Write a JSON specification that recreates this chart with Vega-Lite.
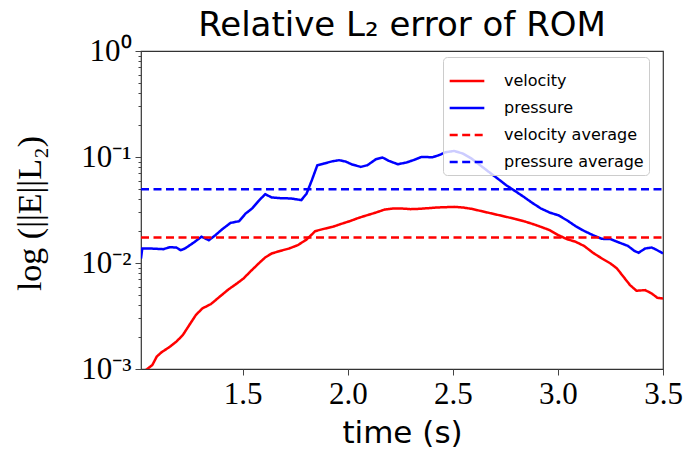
{
  "$schema": "https://vega.github.io/schema/vega-lite/v6.json",
  "autosize": "none",
  "width": 522,
  "height": 318,
  "padding": {"left": 141, "top": 51, "right": 23, "bottom": 85},
  "background": "white",
  "config": {
    "view": {"stroke": "#333333", "strokeWidth": 1.2},
    "axis": {"grid": false, "domain": false}
  },
  "title": {
    "text": "Relative L₂ error of ROM",
    "font": "DejaVu Sans",
    "fontSize": 34,
    "fontWeight": "normal",
    "color": "#000000",
    "anchor": "middle",
    "baseline": "alphabetic",
    "offset": 15,
    "dy": 50
  },
  "data": {
    "values": [
      {"series": "pressure", "time": 1.016, "error": 0.0110},
      {"series": "pressure", "time": 1.022, "error": 0.0137},
      {"series": "pressure", "time": 1.060, "error": 0.0137},
      {"series": "pressure", "time": 1.122, "error": 0.0135},
      {"series": "pressure", "time": 1.153, "error": 0.0141},
      {"series": "pressure", "time": 1.184, "error": 0.0140},
      {"series": "pressure", "time": 1.205, "error": 0.0132},
      {"series": "pressure", "time": 1.225, "error": 0.0137},
      {"series": "pressure", "time": 1.267, "error": 0.0156},
      {"series": "pressure", "time": 1.304, "error": 0.0177},
      {"series": "pressure", "time": 1.339, "error": 0.0164},
      {"series": "pressure", "time": 1.370, "error": 0.0183},
      {"series": "pressure", "time": 1.401, "error": 0.0207},
      {"series": "pressure", "time": 1.442, "error": 0.0239},
      {"series": "pressure", "time": 1.483, "error": 0.0248},
      {"series": "pressure", "time": 1.514, "error": 0.0293},
      {"series": "pressure", "time": 1.545, "error": 0.0327},
      {"series": "pressure", "time": 1.576, "error": 0.0386},
      {"series": "pressure", "time": 1.607, "error": 0.0446},
      {"series": "pressure", "time": 1.638, "error": 0.0415},
      {"series": "pressure", "time": 1.680, "error": 0.0409},
      {"series": "pressure", "time": 1.731, "error": 0.0406},
      {"series": "pressure", "time": 1.779, "error": 0.0392},
      {"series": "pressure", "time": 1.804, "error": 0.0452},
      {"series": "pressure", "time": 1.829, "error": 0.0604},
      {"series": "pressure", "time": 1.855, "error": 0.0836},
      {"series": "pressure", "time": 1.886, "error": 0.0867},
      {"series": "pressure", "time": 1.928, "error": 0.0912},
      {"series": "pressure", "time": 1.959, "error": 0.0933},
      {"series": "pressure", "time": 1.990, "error": 0.0906},
      {"series": "pressure", "time": 2.021, "error": 0.0849},
      {"series": "pressure", "time": 2.062, "error": 0.0807},
      {"series": "pressure", "time": 2.093, "error": 0.0836},
      {"series": "pressure", "time": 2.134, "error": 0.0953},
      {"series": "pressure", "time": 2.165, "error": 0.0989},
      {"series": "pressure", "time": 2.196, "error": 0.0919},
      {"series": "pressure", "time": 2.238, "error": 0.0855},
      {"series": "pressure", "time": 2.279, "error": 0.0887},
      {"series": "pressure", "time": 2.320, "error": 0.0946},
      {"series": "pressure", "time": 2.351, "error": 0.1002},
      {"series": "pressure", "time": 2.403, "error": 0.0995},
      {"series": "pressure", "time": 2.434, "error": 0.1040},
      {"series": "pressure", "time": 2.465, "error": 0.1109},
      {"series": "pressure", "time": 2.506, "error": 0.1141},
      {"series": "pressure", "time": 2.548, "error": 0.1077},
      {"series": "pressure", "time": 2.589, "error": 0.0966},
      {"series": "pressure", "time": 2.630, "error": 0.0836},
      {"series": "pressure", "time": 2.671, "error": 0.0724},
      {"series": "pressure", "time": 2.713, "error": 0.0626},
      {"series": "pressure", "time": 2.754, "error": 0.0542},
      {"series": "pressure", "time": 2.795, "error": 0.0479},
      {"series": "pressure", "time": 2.837, "error": 0.0421},
      {"series": "pressure", "time": 2.878, "error": 0.0369},
      {"series": "pressure", "time": 2.919, "error": 0.0327},
      {"series": "pressure", "time": 2.961, "error": 0.0299},
      {"series": "pressure", "time": 3.002, "error": 0.0282},
      {"series": "pressure", "time": 3.043, "error": 0.0253},
      {"series": "pressure", "time": 3.085, "error": 0.0222},
      {"series": "pressure", "time": 3.126, "error": 0.0200},
      {"series": "pressure", "time": 3.167, "error": 0.0183},
      {"series": "pressure", "time": 3.209, "error": 0.0169},
      {"series": "pressure", "time": 3.250, "error": 0.0168},
      {"series": "pressure", "time": 3.291, "error": 0.0156},
      {"series": "pressure", "time": 3.333, "error": 0.0145},
      {"series": "pressure", "time": 3.364, "error": 0.0130},
      {"series": "pressure", "time": 3.384, "error": 0.0125},
      {"series": "pressure", "time": 3.415, "error": 0.0137},
      {"series": "pressure", "time": 3.446, "error": 0.0140},
      {"series": "pressure", "time": 3.467, "error": 0.0134},
      {"series": "pressure", "time": 3.500, "error": 0.0123},
      {"series": "velocity", "time": 1.020, "error": 0.00090},
      {"series": "velocity", "time": 1.039, "error": 0.000977},
      {"series": "velocity", "time": 1.070, "error": 0.00109},
      {"series": "velocity", "time": 1.091, "error": 0.00131},
      {"series": "velocity", "time": 1.112, "error": 0.00143},
      {"series": "velocity", "time": 1.153, "error": 0.00162},
      {"series": "velocity", "time": 1.184, "error": 0.00181},
      {"series": "velocity", "time": 1.215, "error": 0.00209},
      {"series": "velocity", "time": 1.246, "error": 0.00260},
      {"series": "velocity", "time": 1.277, "error": 0.00323},
      {"series": "velocity", "time": 1.308, "error": 0.00373},
      {"series": "velocity", "time": 1.349, "error": 0.00410},
      {"series": "velocity", "time": 1.390, "error": 0.00480},
      {"series": "velocity", "time": 1.432, "error": 0.00563},
      {"series": "velocity", "time": 1.473, "error": 0.00642},
      {"series": "velocity", "time": 1.504, "error": 0.00715},
      {"series": "velocity", "time": 1.535, "error": 0.00826},
      {"series": "velocity", "time": 1.576, "error": 0.00990},
      {"series": "velocity", "time": 1.607, "error": 0.01128},
      {"series": "velocity", "time": 1.638, "error": 0.01230},
      {"series": "velocity", "time": 1.680, "error": 0.01303},
      {"series": "velocity", "time": 1.721, "error": 0.01371},
      {"series": "velocity", "time": 1.762, "error": 0.01473},
      {"series": "velocity", "time": 1.804, "error": 0.01666},
      {"series": "velocity", "time": 1.845, "error": 0.01997},
      {"series": "velocity", "time": 1.886, "error": 0.02100},
      {"series": "velocity", "time": 1.928, "error": 0.02194},
      {"series": "velocity", "time": 1.969, "error": 0.02340},
      {"series": "velocity", "time": 2.010, "error": 0.02483},
      {"series": "velocity", "time": 2.052, "error": 0.02668},
      {"series": "velocity", "time": 2.093, "error": 0.02826},
      {"series": "velocity", "time": 2.134, "error": 0.02993},
      {"series": "velocity", "time": 2.176, "error": 0.03196},
      {"series": "velocity", "time": 2.217, "error": 0.03266},
      {"series": "velocity", "time": 2.258, "error": 0.03266},
      {"series": "velocity", "time": 2.300, "error": 0.03221},
      {"series": "velocity", "time": 2.341, "error": 0.03243},
      {"series": "velocity", "time": 2.382, "error": 0.03290},
      {"series": "velocity", "time": 2.424, "error": 0.03338},
      {"series": "velocity", "time": 2.465, "error": 0.03362},
      {"series": "velocity", "time": 2.506, "error": 0.03385},
      {"series": "velocity", "time": 2.548, "error": 0.03338},
      {"series": "velocity", "time": 2.589, "error": 0.03243},
      {"series": "velocity", "time": 2.630, "error": 0.03105},
      {"series": "velocity", "time": 2.671, "error": 0.02974},
      {"series": "velocity", "time": 2.713, "error": 0.02846},
      {"series": "velocity", "time": 2.754, "error": 0.02725},
      {"series": "velocity", "time": 2.795, "error": 0.02609},
      {"series": "velocity", "time": 2.837, "error": 0.02483},
      {"series": "velocity", "time": 2.878, "error": 0.02340},
      {"series": "velocity", "time": 2.919, "error": 0.02194},
      {"series": "velocity", "time": 2.961, "error": 0.02040},
      {"series": "velocity", "time": 3.002, "error": 0.01832},
      {"series": "velocity", "time": 3.043, "error": 0.01678},
      {"series": "velocity", "time": 3.085, "error": 0.01584},
      {"series": "velocity", "time": 3.126, "error": 0.01442},
      {"series": "velocity", "time": 3.167, "error": 0.01247},
      {"series": "velocity", "time": 3.209, "error": 0.01104},
      {"series": "velocity", "time": 3.250, "error": 0.00990},
      {"series": "velocity", "time": 3.281, "error": 0.00888},
      {"series": "velocity", "time": 3.312, "error": 0.00741},
      {"series": "velocity", "time": 3.343, "error": 0.00619},
      {"series": "velocity", "time": 3.374, "error": 0.00547},
      {"series": "velocity", "time": 3.415, "error": 0.00555},
      {"series": "velocity", "time": 3.446, "error": 0.00516},
      {"series": "velocity", "time": 3.473, "error": 0.00470},
      {"series": "velocity", "time": 3.500, "error": 0.00462},
      {"series": "velocity average", "time": 1.016, "error": 0.0174},
      {"series": "velocity average", "time": 3.500, "error": 0.0174},
      {"series": "pressure average", "time": 1.016, "error": 0.0496},
      {"series": "pressure average", "time": 3.500, "error": 0.0496}
    ]
  },
  "mark": {"type": "line", "strokeWidth": 2.5, "clip": true},
  "encoding": {
    "x": {
      "field": "time",
      "type": "quantitative",
      "scale": {"domain": [1.016, 3.5], "nice": false, "zero": false},
      "axis": {
        "values": [1.5, 2.0, 2.5, 3.0, 3.5],
        "format": ".1f",
        "labelFont": "Liberation Serif",
        "labelFontSize": 31,
        "labelColor": "#000000",
        "labelPadding": 4,
        "labelFlush": false,
        "tickSize": 6,
        "tickColor": "#444444",
        "title": "time (s)",
        "titleFont": "DejaVu Sans",
        "titleFontSize": 31,
        "titleFontWeight": "normal",
        "titleColor": "#000000",
        "titleBaseline": "middle",
        "titleY": 64
      }
    },
    "y": {
      "field": "error",
      "type": "quantitative",
      "scale": {"type": "log", "domain": [0.001, 1], "nice": false},
      "axis": {
        "values": [0.001, 0.002, 0.003, 0.004, 0.005, 0.006, 0.007, 0.008, 0.009, 0.01, 0.02, 0.03, 0.04, 0.05, 0.06, 0.07, 0.08, 0.09, 0.1, 0.2, 0.3, 0.4, 0.5, 0.6, 0.7, 0.8, 0.9, 1],
        "labelExpr": "datum.value == 1 ? '10⁰' : datum.value == 0.1 ? '10⁻¹' : datum.value == 0.01 ? '10⁻²' : datum.value == 0.001 ? '10⁻³' : ''",
        "labelFont": "Liberation Serif",
        "labelFontSize": 31,
        "labelColor": "#000000",
        "labelPadding": 4,
        "labelFlush": false,
        "labelOverlap": false,
        "tickSize": {"expr": "(datum.value == 1 || datum.value == 0.1 || datum.value == 0.01 || datum.value == 0.001) ? 6 : 3"},
        "tickColor": "#444444",
        "title": "log (||E||L₂)",
        "titleFont": "Liberation Serif",
        "titleFontSize": 34,
        "titleFontWeight": "normal",
        "titleColor": "#000000",
        "titleBaseline": "middle",
        "titleX": -111,
        "titleY": 162
      }
    },
    "color": {
      "field": "series",
      "type": "nominal",
      "scale": {
        "domain": ["velocity", "pressure", "velocity average", "pressure average"],
        "range": ["#ff0000", "#0000ff", "#ff0000", "#0000ff"]
      },
      "legend": {
        "title": null,
        "orient": "none",
        "legendX": 302,
        "legendY": 6,
        "fillColor": "rgba(255,255,255,0.8)",
        "strokeColor": "#cccccc",
        "cornerRadius": 4,
        "padding": 5,
        "labelFont": "DejaVu Sans",
        "labelFontSize": 16,
        "labelColor": "#000000",
        "labelOffset": 18,
        "symbolType": "stroke",
        "symbolSize": 1200,
        "symbolStrokeWidth": 2.5,
        "rowPadding": 0
      }
    },
    "strokeDash": {
      "field": "series",
      "type": "nominal",
      "scale": {
        "domain": ["velocity", "pressure", "velocity average", "pressure average"],
        "range": [[1, 0], [1, 0], [8, 4.5], [8, 4.5]]
      },
      "legend": {
        "title": null,
        "orient": "none",
        "legendX": 302,
        "legendY": 6
      }
    }
  }
}
